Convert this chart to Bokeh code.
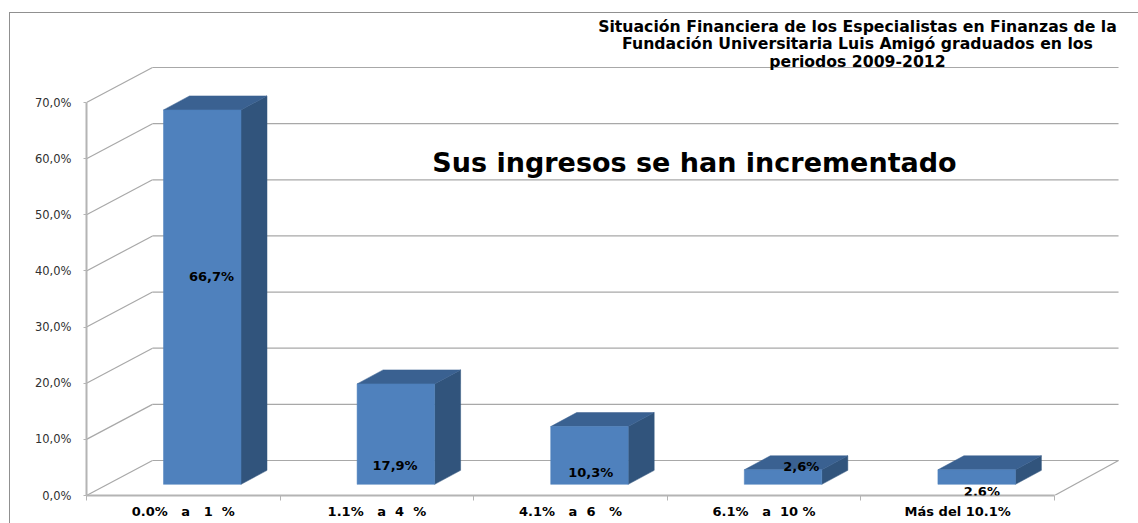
from bokeh.plotting import figure
from bokeh.models import Range1d, FixedTicker, Label, ColumnDataSource
from bokeh.embed import file_html
from bokeh.resources import INLINE

NB = "\u00a0"
categories = [f"0.0%{NB}{NB}{NB}a{NB}{NB}{NB}1{NB}{NB}%", f"1.1%{NB}{NB}{NB}a{NB}{NB}4{NB}{NB}%",
              f"4.1%{NB}{NB}{NB}a{NB}{NB}6{NB}{NB}{NB}%", f"6.1%{NB}{NB}{NB}a{NB}{NB}10{NB}%", "Más del 10.1%"]
values = [66.7, 17.9, 10.3, 2.6, 2.6]
value_labels = ["66,7%", "17,9%", "10,3%", "2,6%", "2,6%"]
y_ticks = [0, 10, 20, 30, 40, 50, 60, 70]
y_tick_labels = ["0,0%", "10,0%", "20,0%", "30,0%", "40,0%", "50,0%", "60,0%", "70,0%"]
title_lines = ["Situación Financiera de los Especialistas en Finanzas de la",
               "Fundación Universitaria Luis Amigó graduados en los",
               "periodos 2009-2012"]
annotation_text = "Sus ingresos se han incrementado"

W, H = 1138, 523
LEFT, BOTTOM = 86, 28
UX, UY = 193.6, 5.614            # pixels per category / per percentage point
fw, fh = W - LEFT, H - BOTTOM
DX, DY = 66 / UX, 35 / UY        # wall depth in data units
GRID = "#a8a8a8"
FONT = "DejaVu Sans"

p = figure(width=W, height=H, output_backend="svg", toolbar_location=None,
           x_range=Range1d(0, fw / UX), y_range=Range1d(0, fh / UY),
           min_border_left=LEFT, min_border_bottom=BOTTOM, min_border_top=0, min_border_right=0,
           outline_line_color=None, background_fill_alpha=0, border_fill_alpha=0,
           x_axis_location="below", y_axis_location="left")
p.grid.visible = False
# outer chart frame: its rules lie outside the plot frame, so they are drawn behind the canvas
p.styles = {"background": ("linear-gradient(#909090,#909090) 9px 12px / 1px 511px no-repeat,"
                           "linear-gradient(#909090,#909090) 9px 12px / 1129px 1px no-repeat,"
                           "#ffffff")}

# walls
n = len(categories)
p.segment(x0=[DX] * len(y_ticks), x1=[n + DX * 0.97] * len(y_ticks),
          y0=[t + DY for t in y_ticks], y1=[t + DY for t in y_ticks],
          line_color=GRID, line_width=1.2)
p.segment(x0=[0] * len(y_ticks), x1=[DX] * len(y_ticks),
          y0=y_ticks, y1=[t + DY for t in y_ticks], line_color=GRID, line_width=1.2)
p.segment(x0=[n], x1=[n + DX * 0.97], y0=[0], y1=[DY], line_color=GRID, line_width=1.2)

# bars
front_off = 0.318
bar_dx, bar_dy = 26 / UX, 14 / UY
sx, sy, tx, ty = [], [], [], []
bar_l = 77 / UX
bar_w = 77.5 / UX
base = front_off * DY
front = {"left": [i + bar_l for i in range(n)], "right": [i + bar_l + bar_w for i in range(n)],
         "bottom": [base] * n, "top": [base + v for v in values]}
for i, v in enumerate(values):
    l, r = i + bar_l, i + bar_l + bar_w
    t = base + v
    sx.append([r, r + bar_dx, r + bar_dx, r])
    sy.append([base, base + bar_dy, t + bar_dy, t])
    tx.append([l, r, r + bar_dx, l + bar_dx])
    ty.append([t, t, t + bar_dy, t + bar_dy])
p.patches(sx, sy, fill_color="#31547C", line_color="#31547C", line_width=0.5)
p.patches(tx, ty, fill_color="#3A6191", line_color="#3A6191", line_width=0.5)
p.quad(source=ColumnDataSource(front), left="left", right="right", bottom="bottom", top="top",
       fill_color="#4F81BD", line_color="#4F81BD", line_width=0.5)

# axes
ya = p.yaxis[0]
ya.ticker = FixedTicker(ticks=y_ticks)
ya.major_label_overrides = dict(zip(y_ticks, y_tick_labels))
ya.bounds = (0, 70)
ya.axis_line_color = "#b4b4b4"
ya.axis_line_width = 2
ya.major_tick_line_color = "#b4b4b4"
ya.major_tick_out, ya.major_tick_in = 3, 0
ya.minor_tick_out, ya.minor_tick_in = 0, 0
ya.major_label_text_font = FONT
ya.major_label_text_font_size = "11.5px"
ya.major_label_text_color = "#303030"
ya.major_label_standoff = 12

xa = p.xaxis[0]
centers = [i + 0.5 for i in range(n)]
xa.ticker = FixedTicker(ticks=centers, minor_ticks=list(range(n + 1)))
xa.major_label_overrides = dict(zip(centers, categories))
xa.bounds = (0, n)
xa.axis_line_color = "#b4b4b4"
xa.axis_line_width = 2
xa.major_tick_out, xa.major_tick_in = 0, 0
xa.minor_tick_line_color = "#b4b4b4"
xa.minor_tick_out, xa.minor_tick_in = 5, 0
xa.major_label_text_font = FONT
xa.major_label_text_font_style = "bold"
xa.major_label_text_font_size = "13px"
xa.major_label_text_color = "#000000"
xa.major_label_standoff = 3

# value labels, placed on each bar
label_shift_px = [(48, 208), (38, 19), (40, 12), (57, 18), (44, -7)]
for i, (txt, (dx, dy)) in enumerate(zip(value_labels, label_shift_px)):
    p.add_layout(Label(x=i + bar_l + dx / UX, y=base + dy / UY, text=txt, text_font=FONT,
                       text_font_style="bold", text_font_size="13px", text_color="#000000",
                       text_align="center", text_baseline="middle"))

# title and annotation
def px(x):
    return (x - LEFT) / UX
def py(y):
    return (fh - y) / UY

for line, yy in zip(title_lines, [26, 43, 61]):
    p.add_layout(Label(x=px(857), y=py(yy), text=line, text_font=FONT, text_font_style="bold",
                       text_font_size="15.7px", text_color="#000000",
                       text_align="center", text_baseline="middle"))
p.add_layout(Label(x=px(694), y=py(162), text=annotation_text, text_font=FONT, text_font_style="bold",
                   text_font_size="27px", text_color="#000000",
                   text_align="center", text_baseline="middle"))

open("out.html", "w").write(file_html(p, INLINE))
